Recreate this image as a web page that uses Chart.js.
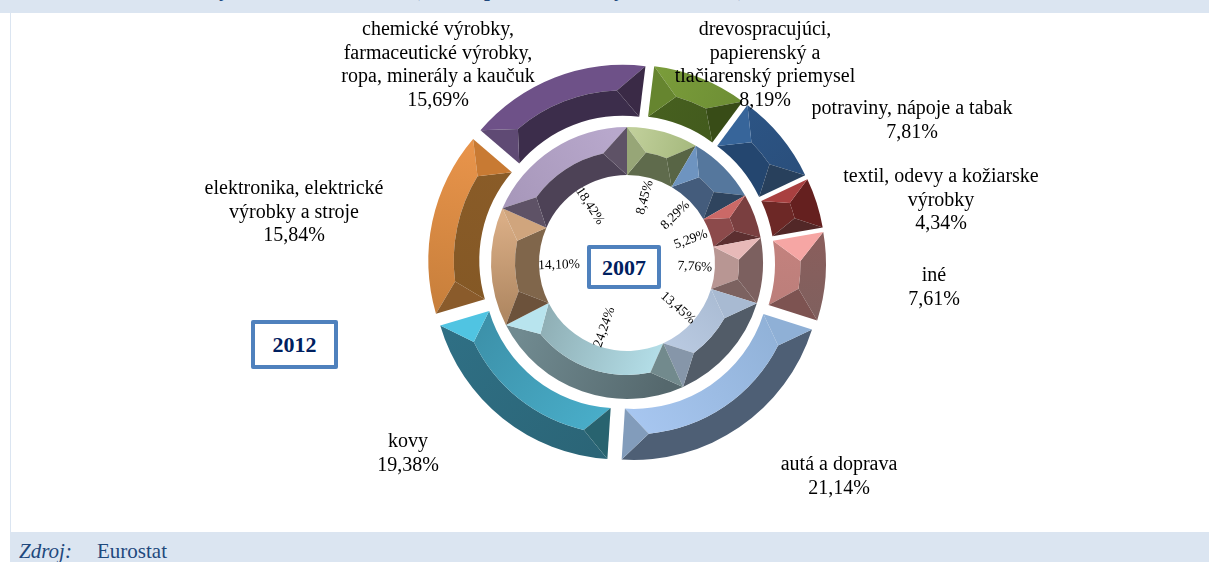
<!DOCTYPE html>
<html>
<head>
<meta charset="utf-8">
<style>
  html, body { margin: 0; padding: 0; background: #fff; }
  body { width: 1209px; height: 562px; position: relative; overflow: hidden; font-family: "Liberation Serif", serif; }
  #frame { position: absolute; left: 10px; top: 0; width: 1199px; height: 562px; border-left: 1px solid #dbe5f1; box-sizing: border-box; }
  #head { position: absolute; left: 0; top: 0; width: 1209px; height: 13px; background: #dbe5f1; overflow: hidden; }
  #head span { position: absolute; top: -23px; font-weight: bold; font-size: 21px; color: #1f497d; white-space: nowrap; }
  #foot { position: absolute; left: 11px; top: 532px; width: 1198px; height: 30px; background: #dbe5f1; color: #1f497d; font-size: 21px; }
  #foot i { position: absolute; left: 8px; top: 7px; }
  #foot span { position: absolute; left: 86px; top: 7px; }
  #wrap { position: absolute; left: 0; top: 0; width: 1209px; height: 562px; }
  canvas { display: block; }
  .year { position: absolute; box-sizing: border-box; border: 4px solid #4f81bd; border-radius: 2px; background: #fff; color: #002060; font-weight: bold; font-size: 22px; text-align: center; }
</style>
</head>
<body>
<div id="frame"></div>
<div id="wrap"><canvas id="chart" width="1209" height="562"></canvas></div>
<div id="head"><span style="left:219px">y</span><span style="left:413px">(</span><span style="left:484px">p</span><span style="left:614px">y</span><span style="left:738px">),</span></div>
<div id="foot"><i>Zdroj:</i><span>Eurostat</span></div>
<div class="year" style="left:251px;top:320px;width:87px;height:49px;line-height:42px">2012</div>
<div class="year" style="left:587px;top:245px;width:74px;height:44px;line-height:37px">2007</div>
<script src="https://cdn.jsdelivr.net/npm/chart.js@4"></script>
<script>
const categories = [
  'drevospracujúci, papierenský a tlačiarenský priemysel',
  'potraviny, nápoje a tabak',
  'textil, odevy a kožiarske výrobky',
  'iné',
  'autá a doprava',
  'kovy',
  'elektronika, elektrické výrobky a stroje',
  'chemické výrobky, farmaceutické výrobky, ropa, minerály a kaučuk',
];
const values2012 = [8.19, 7.81, 4.34, 7.61, 21.14, 19.38, 15.84, 15.69];
const values2007 = [8.45, 8.29, 5.29, 7.76, 13.45, 24.24, 14.10, 18.42];
const labelLines2012 = [
  ['drevospracujúci,', 'papierenský a', 'tlačiarenský priemysel', '8,19%'],
  ['potraviny, nápoje a tabak', '7,81%'],
  ['textil, odevy a kožiarske', 'výrobky', '4,34%'],
  ['iné', '7,61%'],
  ['autá a doprava', '21,14%'],
  ['kovy', '19,38%'],
  ['elektronika, elektrické', 'výrobky a stroje', '15,84%'],
  ['chemické výrobky,', 'farmaceutické výrobky,', 'ropa, minerály a kaučuk', '15,69%'],
];
const labelCentres2012 = [[765, 30], [912, 109], [941, 177], [934, 276], [839, 465], [408, 442], [294, 189], [438, 30]];
const labels2007 = ['8,45%', '8,29%', '5,29%', '7,76%', '13,45%', '24,24%', '14,10%', '18,42%'];

// outer band (slice start, slice end), inner band (start, end), start facet, end facet
const colours2012 = [
  ['#7a9c3a', '#6e8f35', '#47601f', '#425a1d', '#66852f', '#384c17'],
  ['#2c5484', '#2a4f7c', '#24466f', '#24466f', '#37659a', '#28405c'],
  ['#65201f', '#65201f', '#6d2826', '#6d2826', '#a94040', '#522727'],
  ['#8a5e5c', '#80605e', '#c4827e', '#bb7e7a', '#f6a6a4', '#7d5351'],
  ['#4e5f75', '#4e5f75', '#8fb0d6', '#a9c8f2', '#8fb0d6', '#829cbb'],
  ['#2b6577', '#2f6f84', '#4ab0cc', '#3b8ea6', '#28636f', '#50c4e2'],
  ['#c9803c', '#e7934a', '#845825', '#8a5c28', '#8a5b2b', '#c87a33'],
  ['#6e5188', '#6e5188', '#3c2d4b', '#3c2d4b', '#5f4a74', '#3a2a46'],
];
const colours2007 = [
  ['#c0cf9a', '#a8bb80', '#5f6b4c', '#5f6b4c', '#97a677', '#586545'],
  ['#55779d', '#55779d', '#445c7c', '#445c7c', '#6e94c0', '#2f445e'],
  ['#7a3f40', '#7a3f40', '#8c4a4b', '#8c4a4b', '#cb6967', '#5c2f30'],
  ['#7c605f', '#7c605f', '#b89693', '#b89693', '#e7b9b8', '#7c6260'],
  ['#525c68', '#525c68', '#a8bad2', '#bccce3', '#a8bad2', '#8696a9'],
  ['#55686d', '#708a90', '#b8e4ee', '#8aa8ae', '#728a8d', '#b8e4ee'],
  ['#b08862', '#d9ad85', '#80664b', '#80664b', '#6c523b', '#d0a57d'],
  ['#a898bb', '#b8a8cc', '#4d4256', '#4d4256', '#5e5266', '#5e5266'],
];

// draws each arc the library laid out as a bevelled block instead of a flat one
function drawBevels(chart, meta, set, exploded) {
  const ctx = chart.ctx;
  meta.data.forEach((el, i) => {
    const { startAngle: s, endAngle: e, innerRadius: ri, outerRadius: ro, options } = el;
    const mid = (s + e) / 2;
    const shift = exploded ? options.offset / 4 : 0;
    const x = el.x + Math.cos(mid) * shift;
    const y = el.y + Math.sin(mid) * shift;
    const rm = (ri + ro) / 2;
    const inset = Math.min((ro - ri) * 0.5 / rm, (e - s) * 0.32);
    const [outerA, outerB, innerA, innerB, startFacet, endFacet] = set[i];
    const p = (r, a) => [x + Math.cos(a) * r, y + Math.sin(a) * r];
    const along = (a, b) => {
      const g = ctx.createLinearGradient(...p(rm, s), ...p(rm, e));
      g.addColorStop(0, a);
      g.addColorStop(1, b);
      return g;
    };
    // outer band
    ctx.beginPath();
    ctx.arc(x, y, ro, s, e);
    ctx.arc(x, y, rm, e - inset, s + inset, true);
    ctx.closePath();
    ctx.fillStyle = along(outerA, outerB);
    ctx.fill();
    // inner band
    ctx.beginPath();
    ctx.arc(x, y, rm, s + inset, e - inset);
    ctx.arc(x, y, ri, e, s, true);
    ctx.closePath();
    ctx.fillStyle = along(innerA, innerB);
    ctx.fill();
    // end facets
    [[s, s + inset, startFacet], [e, e - inset, endFacet]].forEach(([edge, corner, colour]) => {
      ctx.beginPath();
      ctx.moveTo(...p(ro, edge));
      ctx.lineTo(...p(rm, corner));
      ctx.lineTo(...p(ri, edge));
      ctx.closePath();
      ctx.fillStyle = colour;
      ctx.fill();
    });
  });
}

const bevelPlugin = {
  id: 'bevel',
  beforeDatasetDraw(chart, args) {
    // only the 2012 ring is pulled apart; 2007 keeps offset just so both rings get the same radius
    drawBevels(chart, args.meta, args.index === 0 ? colours2012 : colours2007, args.index === 0);
    return false;
  },
  afterDraw(chart) {
    const ctx = chart.ctx;
    ctx.save();
    ctx.fillStyle = '#000';
    ctx.textAlign = 'center';
    ctx.textBaseline = 'middle';
    ctx.font = '20px "Liberation Serif"';
    labelLines2012.forEach((lines, i) => {
      lines.forEach((line, n) => ctx.fillText(line, labelCentres2012[i][0], labelCentres2012[i][1] + n * 23.5));
    });
    // percentages of the inner ring follow the radius of their slice
    ctx.font = '13.5px "Liberation Serif"';
    chart.getDatasetMeta(1).data.forEach((el, i) => {
      const mid = (el.startAngle + el.endAngle) / 2;
      const r = el.innerRadius - 20;
      ctx.save();
      ctx.translate(el.x + Math.cos(mid) * r, el.y + Math.sin(mid) * r);
      ctx.rotate(Math.cos(mid) < 0 ? mid + Math.PI : mid);
      ctx.fillText(labels2007[i], 0, 0);
      ctx.restore();
    });
    ctx.restore();
  },
};

new Chart(document.getElementById('chart'), {
  type: 'doughnut',
  data: {
    labels: categories,
    datasets: [
      { label: '2012', data: values2012, rotation: 7, offset: 48, weight: 1.0625, backgroundColor: colours2012.map(c => c[0]), borderWidth: 0 },
      { label: '2007', data: values2007, rotation: 0, offset: 48, weight: 1, backgroundColor: colours2007.map(c => c[0]), borderWidth: 0 },
    ],
  },
  options: {
    responsive: false,
    animation: false,
    cutout: 88,
    layout: { padding: { left: 416, right: 371, top: 52, bottom: 88 } },
    plugins: { legend: { display: false }, tooltip: { enabled: false } },
  },
  plugins: [bevelPlugin],
});
</script>
</body>
</html>
